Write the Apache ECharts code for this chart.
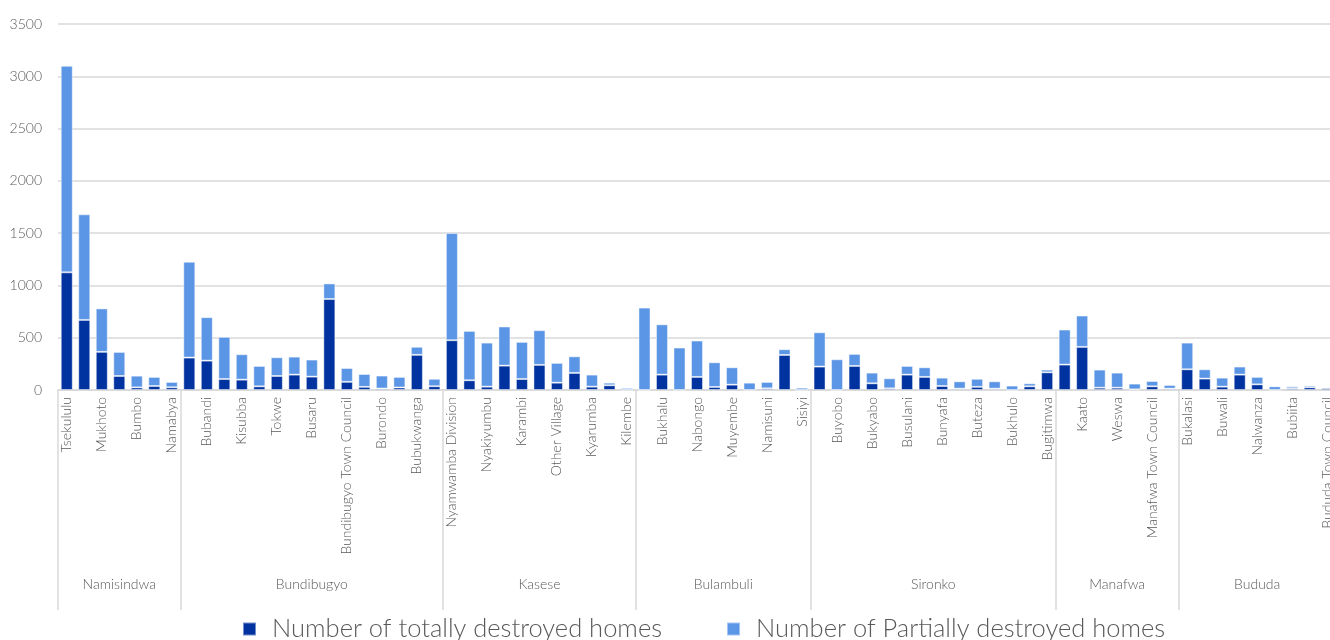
<!DOCTYPE html>
<html>
<head>
<meta charset="utf-8">
<script src="https://cdn.jsdelivr.net/npm/echarts@6/dist/echarts.min.js"></script>
<style>
  html, body { margin: 0; padding: 0; background: #fff; }
  #chart { width: 1330px; height: 640px; }
</style>
</head>
<body>
<div id="chart"></div>
<script>
// villages (every other label is shown, like the original)
var villages = [
  'Tsekululu', 'Bupoto', 'Mukhoto', 'Magale', 'Bumbo', 'Bukhaweka', 'Namabya',
  'Harugali', 'Bubandi', 'Kirumya', 'Kisubba', 'Ndugutu', 'Tokwe', 'Sindila', 'Busaru', 'Ngamba',
  'Bundibugyo Town Council', 'Kanara', 'Burondo', 'Bumadu', 'Bubukwanga', 'Nyahuka',
  'Nyamwamba Division', 'Bulembia', 'Nyakiyumbu', 'Kitswamba', 'Karambi', 'Maliba', 'Other Village',
  'Bwesumbu', 'Kyarumba', 'Mahango', 'Kilembe',
  'Buginyanya', 'Bukhalu', 'Bulegeni', 'Nabongo', 'Lusha', 'Muyembe', 'Bunambutye', 'Namisuni', 'Masira', 'Sisiyi',
  'Buwasa', 'Buyobo', 'Bumalimba', 'Bukyabo', 'Zesui', 'Busulani', 'Buhugu', 'Bunyafa', 'Masaba',
  'Buteza', 'Bumasifwa', 'Bukhulo', 'Butandiga', 'Bugitimwa',
  'Bugobero', 'Kaato', 'Butiru', 'Weswa', 'Sibanga', 'Manafwa Town Council', 'Bubutu',
  'Bukalasi', 'Bushika', 'Buwali', 'Bumayoka', 'Nalwanza', 'Nakatsi', 'Bubiita', 'Bulucheke', 'Bududa Town Council'
];

// districts and how many villages each one holds
var districts = ['Namisindwa', 'Bundibugyo', 'Kasese', 'Bulambuli', 'Sironko', 'Manafwa', 'Bududa'];
var districtSizes = [7, 15, 11, 10, 14, 7, 9];

var totallyDestroyed = [
  1125, 670, 365, 134, 25, 38, 26,
  310, 281, 105, 99, 35, 134, 147, 128, 870, 78, 30, 14, 24, 336, 36,
  476, 93, 32, 233, 105, 240, 70, 163, 32, 45, 2,
  0, 147, 0, 125, 29, 51, 0, 16, 335, 0,
  224, 0, 230, 64, 16, 147, 125, 38, 13, 30, 13, 0, 35, 169,
  243, 412, 22, 22, 6, 35, 13,
  198, 109, 32, 147, 54, 0, 16, 26, 19
];
var partiallyDestroyed = [
  1975, 1010, 415, 230, 112, 87, 51,
  916, 415, 403, 243, 195, 179, 172, 163, 149, 132, 123, 124, 101, 77, 71,
  1025, 472, 421, 374, 355, 332, 189, 159, 115, 25, 18,
  788, 481, 406, 348, 236, 166, 70, 61, 55, 22,
  328, 294, 115, 102, 96, 83, 92, 80, 70, 77, 70, 42, 29, 26,
  335, 300, 173, 144, 55, 51, 35,
  255, 89, 86, 77, 71, 35, 19, 16, 3
];

var yTicks = [0, 3500, 500];

// group boundaries and centres on the band scale
var bounds = [-0.5];
var centres = [];
districtSizes.forEach(function (n, i) {
  var start = bounds[i];
  bounds.push(start + n);
  centres.push(start + n / 2);
});

var font = 'Lato';
var grey = '#595959';

var dom = document.getElementById('chart');
var myChart = echarts.init(dom);

var option = {
  animation: false,
  backgroundColor: '#fff',
  textStyle: { fontFamily: font },
  grid: {
    left: 58,
    right: -6,
    top: 24,
    bottom: 250,
    outerBoundsMode: 'none'
  },
  legend: {
    top: 611,
    left: 237,
    itemWidth: 13,
    itemHeight: 13,
    itemGap: 64,
    icon: 'rect',
    textStyle: {
      fontFamily: font,
      fontSize: 25.5,
      color: grey,
      fontWeight: 300,
      padding: [0, 0, 0, 11]
    },
    data: ['Number of totally destroyed homes', 'Number of Partially destroyed homes']
  },
  xAxis: [{
    type: 'category',
    data: villages,
    axisLine: { lineStyle: { color: '#d9d9d9', width: 1.5 } },
    axisTick: { show: false },
    axisLabel: {
      rotate: 90,
      interval: 1,
      margin: 7,
      fontSize: 14,
      fontWeight: 300,
      color: grey,
      fontFamily: font
    }
  }, {
    type: 'value',
    position: 'bottom',
    min: bounds[0],
    max: bounds[bounds.length - 1],
    axisLine: { show: false },
    splitLine: { show: false },
    axisTick: {
      show: true,
      length: 220,
      customValues: bounds,
      lineStyle: { color: '#d9d9d9', width: 1.5 }
    },
    axisLabel: {
      margin: 187,
      fontSize: 14,
      fontWeight: 300,
      color: grey,
      fontFamily: font,
      customValues: centres,
      formatter: function (v) {
        for (var i = 0; i < centres.length; i++) {
          if (Math.abs(centres[i] - v) < 0.01) return districts[i];
        }
        return '';
      }
    }
  }],
  yAxis: {
    type: 'value',
    min: yTicks[0],
    max: yTicks[1],
    interval: yTicks[2],
    axisLine: { show: false },
    axisTick: { show: false },
    splitLine: { lineStyle: { color: '#d9d9d9', width: 1.5 } },
    axisLabel: {
      margin: 16,
      fontSize: 14,
      fontWeight: 300,
      color: grey,
      fontFamily: font,
      formatter: function (v) { return String(v); }
    }
  },
  series: [{
    name: 'Number of totally destroyed homes',
    type: 'bar',
    stack: 'homes',
    barWidth: 12,
    itemStyle: { color: '#0033a0', borderColor: 'rgba(255,255,255,0.45)', borderWidth: 1 },
    data: totallyDestroyed
  }, {
    name: 'Number of Partially destroyed homes',
    type: 'bar',
    stack: 'homes',
    barWidth: 12,
    itemStyle: { color: '#5b95e5', borderColor: 'rgba(255,255,255,0.45)', borderWidth: 1 },
    data: partiallyDestroyed
  }]
};

myChart.setOption(option);
</script>
</body>
</html>
